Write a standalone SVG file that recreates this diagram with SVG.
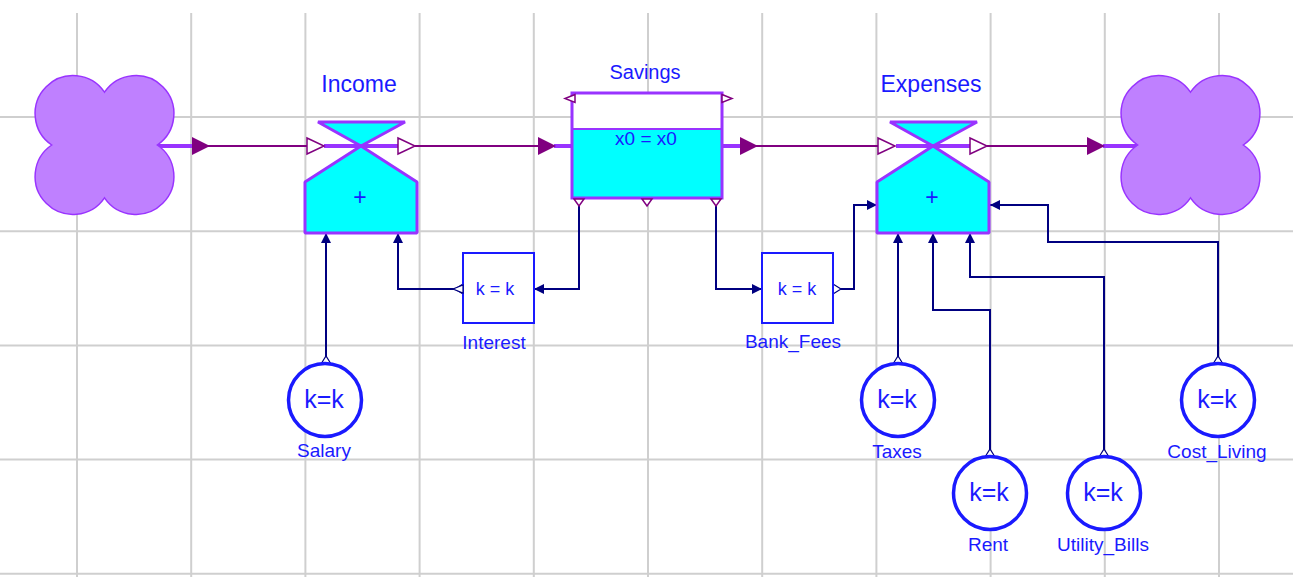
<svg xmlns="http://www.w3.org/2000/svg" width="1293" height="577" viewBox="0 0 1293 577">
<style>
.grid line{stroke:#cfcfcf;stroke-width:2}
.cloud{fill:#bf80ff;stroke:#9933ff;stroke-width:1.5}
.valve{fill:#00ffff;stroke:#9933ff;stroke-width:3;stroke-linejoin:bevel}
.thick{stroke:#9933ff;stroke-width:4}
.thin{stroke:#800080;stroke-width:2}
.farrow{fill:#800080}
.port{fill:#fff;stroke:#800080;stroke-width:1.5}
.link{fill:none;stroke:#000080;stroke-width:2;marker-start:url(#hollow);marker-end:url(#arr)}
.aux{fill:#fff;stroke:#1a1aff;stroke-width:2}
.const{fill:#fff;stroke:#1a1aff;stroke-width:3.5}
text{font-family:"Liberation Sans",Arial,sans-serif;fill:#1a1aff;text-anchor:middle}
.lbl{font-size:19px}
.big{font-size:23px}
.kk{font-size:25px}
.eq{font-size:18px}
.plus{font-size:23px}
</style>
<defs>
<path id="cloudShape" d="M0,-52.8 A38,38 0 1 1 52.8,0 A38,38 0 1 1 0,52.8 A38,38 0 1 1 -52.8,0 A38,38 0 1 1 0,-52.8 Z"/>
<path id="farrowShape" d="M0,-9 L18,0 L0,9 Z"/>
<path id="portShape" d="M0,-8 L17,0 L0,8 Z"/>
<path id="valveShape" d="M0,0 L56,36 L56,87 L-56,87 L-56,36 Z M-43,-24 L44,-24 L0,0 Z"/>
<marker id="arr" viewBox="0 0 10 10" refX="10" refY="5" markerWidth="10" markerHeight="11" markerUnits="userSpaceOnUse" orient="auto">
<path d="M0,0 L10,5 L0,10 Z" fill="#000080"/>
</marker>
<marker id="hollow" viewBox="-1 -1 11 12" refX="0" refY="5" markerWidth="11" markerHeight="12" markerUnits="userSpaceOnUse" orient="auto">
<path d="M0,0 L8,5 L0,10 Z" fill="#fff" stroke="#000080" stroke-width="1.2"/>
</marker>
</defs>
<rect width="1293" height="577" fill="#fff"/>
<g class="grid">
<line x1="77" y1="13" x2="77" y2="577"/>
<line x1="191.2" y1="13" x2="191.2" y2="577"/>
<line x1="305.4" y1="13" x2="305.4" y2="577"/>
<line x1="419.6" y1="13" x2="419.6" y2="577"/>
<line x1="533.8" y1="13" x2="533.8" y2="577"/>
<line x1="648" y1="13" x2="648" y2="577"/>
<line x1="762.2" y1="13" x2="762.2" y2="577"/>
<line x1="876.4" y1="13" x2="876.4" y2="577"/>
<line x1="990.6" y1="13" x2="990.6" y2="577"/>
<line x1="1104.8" y1="13" x2="1104.8" y2="577"/>
<line x1="1219" y1="13" x2="1219" y2="577"/>
<line x1="0" y1="117" x2="1293" y2="117"/>
<line x1="0" y1="231.2" x2="1293" y2="231.2"/>
<line x1="0" y1="345.4" x2="1293" y2="345.4"/>
<line x1="0" y1="459.6" x2="1293" y2="459.6"/>
<line x1="0" y1="573.8" x2="1293" y2="573.8"/>
</g>
<g id="connectors">
<line class="thick" x1="157" y1="146" x2="192" y2="146"/>
<line class="thin" x1="205" y1="146" x2="307" y2="146"/>
<use href="#farrowShape" class="farrow" transform="translate(192,146)"/>
<line class="thin" x1="415" y1="146" x2="540" y2="146"/>
<line class="thick" x1="554" y1="146" x2="573" y2="146"/>
<use href="#farrowShape" class="farrow" transform="translate(538,146)"/>
<line class="thick" x1="721" y1="146" x2="742" y2="146"/>
<line class="thin" x1="755" y1="146" x2="879" y2="146"/>
<use href="#farrowShape" class="farrow" transform="translate(740,146)"/>
<line class="thin" x1="987" y1="146" x2="1090" y2="146"/>
<line class="thick" x1="1103" y1="146" x2="1139" y2="146"/>
<use href="#farrowShape" class="farrow" transform="translate(1087,146)"/>
<path class="link" d="M579,206 V289 H534" style="marker-start:none"/>
<path class="link" d="M463,289 H398 V233"/>
<path class="link" d="M326,364 V233"/>
<path class="link" d="M716,206 V289 H762" style="marker-start:none"/>
<path class="link" d="M833,289 H854 V205 H877"/>
<path class="link" d="M898,364 V233"/>
<path class="link" d="M990,457 V310 H933 V233"/>
<path class="link" d="M1104,457 V277 H970 V233"/>
<path class="link" d="M1218,364 V242 H1048 V205 H990"/>
</g>
<g id="source">
<use href="#cloudShape" class="cloud" transform="translate(104.5,145)"/>
</g>
<g id="sink">
<use href="#cloudShape" class="cloud" transform="translate(1190.5,145)"/>
</g>
<g id="income" transform="translate(361,146)">
<use href="#valveShape" class="valve"/>
<line class="thick" x1="-37" y1="0" x2="37" y2="0"/>
<use href="#portShape" class="port" transform="translate(-54,0)"/>
<use href="#portShape" class="port" transform="translate(37,0)"/>
<text class="plus" x="-1" y="59">+</text>
<text class="big" x="-2" y="-54">Income</text>
</g>
<g id="expenses" transform="translate(933,146)">
<use href="#valveShape" class="valve"/>
<line class="thick" x1="-37" y1="0" x2="37" y2="0"/>
<use href="#portShape" class="port" transform="translate(-55,0)"/>
<use href="#portShape" class="port" transform="translate(37,0)"/>
<text class="plus" x="-1" y="59">+</text>
<text class="big" x="-2" y="-54">Expenses</text>
</g>
<g id="savings">
<rect x="572" y="93" width="150" height="105" fill="#fff"/>
<rect x="572" y="129" width="150" height="69" fill="#00ffff"/>
<line x1="572" y1="129" x2="722" y2="129" stroke="#9933ff" stroke-width="2"/>
<rect x="572" y="93" width="150" height="105" fill="none" stroke="#9933ff" stroke-width="3"/>
<path class="port" d="M575,94.5 L565,98.5 L575,102.5 Z"/>
<path class="port" d="M722,94.5 L732,98.5 L722,102.5 Z"/>
<path class="port" d="M574,199 L579,206 L584,199 Z"/>
<path class="port" d="M642,199 L647,206 L652,199 Z"/>
<path class="port" d="M711,199 L716,206 L721,199 Z"/>
<text x="646" y="145" style="font-size:19px">x0 = x0</text>
<text x="645" y="79" style="font-size:20px">Savings</text>
</g>
<g id="interest">
<rect class="aux" x="463" y="253" width="71" height="70"/>
<path d="M463,285 L453,289 L463,293 Z" fill="#fff" stroke="#000080" stroke-width="1.2"/>
<text class="eq" x="495" y="295">k = k</text>
<text class="lbl" x="494" y="349">Interest</text>
</g>
<g id="bank_fees">
<rect class="aux" x="762" y="253" width="71" height="70"/>
<text class="eq" x="797" y="295">k = k</text>
<text class="lbl" x="793" y="348">Bank_Fees</text>
</g>
<g id="salary">
<circle class="const" cx="325" cy="400" r="36.5"/>
<text class="kk" x="324" y="408">k=k</text>
<text class="lbl" x="324" y="457">Salary</text>
</g>
<g id="taxes">
<circle class="const" cx="898" cy="400" r="36.5"/>
<text class="kk" x="897" y="408">k=k</text>
<text class="lbl" x="897" y="458">Taxes</text>
</g>
<g id="cost_living">
<circle class="const" cx="1218" cy="400" r="36.5"/>
<text class="kk" x="1217" y="408">k=k</text>
<text class="lbl" x="1217" y="458">Cost_Living</text>
</g>
<g id="rent">
<circle class="const" cx="990" cy="493" r="36.5"/>
<text class="kk" x="989" y="501">k=k</text>
<text class="lbl" x="988" y="551">Rent</text>
</g>
<g id="utility_bills">
<circle class="const" cx="1104" cy="493" r="36.5"/>
<text class="kk" x="1103" y="501">k=k</text>
<text class="lbl" x="1103" y="551">Utility_Bills</text>
</g>
</svg>
